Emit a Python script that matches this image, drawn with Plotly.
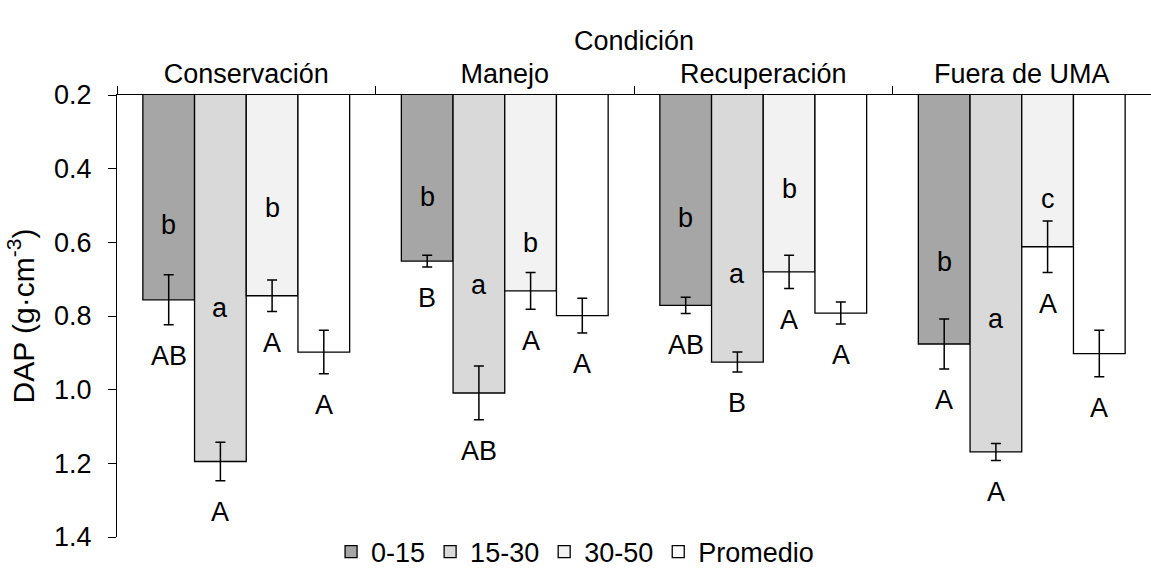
import plotly.graph_objects as go

conditions = ["Conservación", "Manejo", "Recuperación", "Fuera de UMA"]
series = ["0-15", "15-30", "30-50", "Promedio"]

# DAP values (g·cm-3) per series, one per condition
v_0_15 = [0.756, 0.651, 0.771, 0.876]
v_15_30 = [1.195, 1.009, 0.925, 1.169]
v_30_50 = [0.745, 0.732, 0.680, 0.612]
v_prom = [0.898, 0.799, 0.792, 0.902]

e_0_15 = [0.068, 0.016, 0.022, 0.068]
e_15_30 = [0.052, 0.073, 0.027, 0.023]
e_30_50 = [0.043, 0.050, 0.045, 0.070]
e_prom = [0.059, 0.047, 0.030, 0.063]

# significance letters
low_0_15 = ["b", "b", "b", "b"]
low_15_30 = ["a", "a", "a", "a"]
low_30_50 = ["b", "b", "b", "c"]
low_prom = ["", "", "", ""]

up_0_15 = ["AB", "B", "AB", "A"]
up_15_30 = ["A", "AB", "B", "A"]
up_30_50 = ["A", "A", "A", "A"]
up_prom = ["A", "A", "A", "A"]

values = [v_0_15, v_15_30, v_30_50, v_prom]
errors = [e_0_15, e_15_30, e_30_50, e_prom]
lowers = [low_0_15, low_15_30, low_30_50, low_prom]
uppers = [up_0_15, up_15_30, up_30_50, up_prom]

# placement of lowercase letters inside bars (axis units)
lower_pos = [
    [0.553, 0.476, 0.535, 0.653],
    [0.779, 0.716, 0.685, 0.809],
    [0.507, 0.603, 0.454, 0.481],
    [None, None, None, None],
]

colors = ["#A6A6A6", "#D9D9D9", "#F2F2F2", "#FFFFFF"]
FONT = "Liberation Sans, Arial, sans-serif"
FS = 27

fig = go.Figure()
for s, vals, errs, col in zip(series, values, errors, colors):
    fig.add_trace(go.Bar(
        name=s, x=conditions, y=vals,
        marker=dict(color=col, line=dict(color="black", width=1.3)),
        error_y=dict(type="data", array=errs, visible=True, color="black",
                     thickness=1.5, width=5),
    ))

offsets = [-0.3, -0.1, 0.1, 0.3]
annotations = []
for k in range(4):
    for i in range(len(conditions)):
        if lowers[k][i]:
            annotations.append(dict(x=i + offsets[k], y=lower_pos[k][i], xref="x", yref="y",
                                    text=lowers[k][i], showarrow=False,
                                    font=dict(family=FONT, size=FS, color="black")))
        annotations.append(dict(x=i + offsets[k], y=values[k][i] + errors[k][i] + 0.085,
                                xref="x", yref="y", text=uppers[k][i], showarrow=False,
                                font=dict(family=FONT, size=FS, color="black")))

fig.update_layout(
    width=1151, height=569,
    margin=dict(l=117, r=0, t=95, b=32, autoexpand=False),
    paper_bgcolor="white", plot_bgcolor="white",
    barmode="group", bargap=0.2, bargroupgap=0,
    font=dict(family=FONT, size=FS, color="black"),
    annotations=annotations,
    legend=dict(orientation="h", x=0.443, xanchor="center", y=-0.034, yanchor="middle",
                font=dict(family=FONT, size=FS, color="black"),
                itemwidth=30, tracegroupgap=0, bgcolor="rgba(0,0,0,0)"),
    xaxis=dict(side="top", type="category", showline=True, linecolor="black", linewidth=1.3,
               ticks="outside", tickson="boundaries", ticklen=8, tickcolor="black",
               tickwidth=1.3, showgrid=False, zeroline=False, automargin=False,
               tickfont=dict(family=FONT, size=FS, color="black"),
               title=dict(text="Condición", standoff=0,
                          font=dict(family=FONT, size=FS, color="black"))),
    yaxis=dict(range=[1.4, 0.2], tickmode="array", tickvals=[0.2, 0.4, 0.6, 0.8, 1.0, 1.2, 1.4],
               tickformat=".1f", showline=True, linecolor="black", linewidth=1.3,
               ticks="outside", ticklen=8, tickcolor="black", tickwidth=1.3,
               ticklabelstandoff=11,
               showgrid=False, zeroline=False, automargin=False,
               tickfont=dict(family=FONT, size=FS, color="black"),
               title=dict(text="DAP (g·cm<sup>-3</sup>)", standoff=10,
                          font=dict(family=FONT, size=30, color="black"))),
)

fig.write_html("out.html")
